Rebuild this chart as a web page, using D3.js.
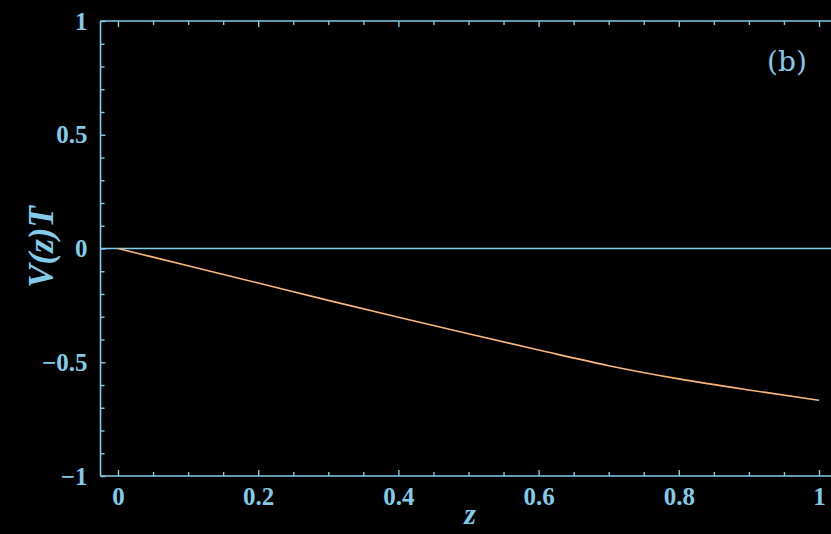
<!DOCTYPE html>
<html>
<head>
<meta charset="utf-8">
<script src="https://cdn.jsdelivr.net/npm/d3@7"></script>
<style>
  html, body { margin: 0; padding: 0; background: #000; overflow: hidden; }
</style>
</head>
<body>
<div class="chart"></div>
<script>
// values
var zValues = [0, 0.1, 0.2, 0.3, 0.4, 0.5, 0.6, 0.7, 0.8, 0.9, 1.0];
var vValues = [0, -0.076, -0.152, -0.228, -0.302, -0.375, -0.446, -0.515, -0.573, -0.622, -0.667];
var xMajor = [0, 0.2, 0.4, 0.6, 0.8, 1];
var xLabels = ["0", "0.2", "0.4", "0.6", "0.8", "1"];
var yMajor = [-1, -0.5, 0, 0.5, 1];
var yLabels = ["\u22121", "\u22120.5", "0", "0.5", "1"];

var blue = "#82cbe9", orange = "#f7b77c";
var W = 831, H = 534;

var x = d3.scaleLinear().domain([0, 1]).range([118, 819]);
var y = d3.scaleLinear().domain([-1, 1]).range([476, 21]);
var left = 100.5, right = W;

var xMinor = d3.range(-0.0, 1.0001, 0.05).filter(function(d){ return Math.abs(d*5 - Math.round(d*5)) > 1e-6; });
var yMinor = d3.range(-1, 1.0001, 0.1).filter(function(d){ return Math.abs(d*2 - Math.round(d*2)) > 1e-6; });

var svg = d3.select(".chart").append("svg")
  .attr("width", W).attr("height", H)
  .style("display", "block").style("background", "#000");

// frame lines
svg.append("line").attr("x1", left).attr("x2", right).attr("y1", y(-1)).attr("y2", y(-1))
  .attr("stroke", blue).attr("stroke-width", 1.6);
svg.append("line").attr("x1", left).attr("x2", right).attr("y1", y(1)).attr("y2", y(1))
  .attr("stroke", blue).attr("stroke-width", 1.6);
svg.append("line").attr("x1", left).attr("x2", left).attr("y1", y(1)).attr("y2", y(-1))
  .attr("stroke", blue).attr("stroke-width", 1.6);
// zero line
svg.append("line").attr("x1", left).attr("x2", right).attr("y1", y(0)).attr("y2", y(0))
  .attr("stroke", blue).attr("stroke-width", 1.4);

function styleAxis(g) {
  g.attr("font-family", "Liberation Serif, DejaVu Serif, serif").attr("font-size", 25).attr("font-weight", "bold");
  g.select(".domain").remove();
  g.selectAll(".tick line").attr("stroke", blue).attr("stroke-width", 1.4);
  g.selectAll(".tick text").attr("fill", blue);
}

// bottom axis
svg.append("g").attr("transform", "translate(0," + y(-1) + ")")
  .call(d3.axisBottom(x).tickValues(xMajor).tickSize(-6).tickPadding(11)
    .tickFormat(function(d, i){ return xLabels[i]; }))
  .call(styleAxis);
svg.append("g").attr("transform", "translate(0," + y(-1) + ")")
  .call(d3.axisBottom(x).tickValues(xMinor).tickSize(-4).tickFormat(""))
  .call(styleAxis);
// top axis ticks
svg.append("g").attr("transform", "translate(0," + y(1) + ")")
  .call(d3.axisTop(x).tickValues(xMajor).tickSize(-6).tickFormat(""))
  .call(styleAxis);
svg.append("g").attr("transform", "translate(0," + y(1) + ")")
  .call(d3.axisTop(x).tickValues(xMinor).tickSize(-4).tickFormat(""))
  .call(styleAxis);
// left axis
svg.append("g").attr("transform", "translate(" + left + ",0)")
  .call(d3.axisLeft(y).tickValues(yMajor).tickSize(-5).tickPadding(13)
    .tickFormat(function(d, i){ return yLabels[i]; }))
  .call(styleAxis);
svg.append("g").attr("transform", "translate(" + left + ",0)")
  .call(d3.axisLeft(y).tickValues(yMinor).tickSize(-4).tickFormat(""))
  .call(styleAxis);

// curve
var line = d3.line().x(function(d, i){ return x(zValues[i]); }).y(function(d){ return y(d); })
  .curve(d3.curveMonotoneX);
svg.append("path").datum(vValues).attr("d", line)
  .attr("fill", "none").attr("stroke", orange).attr("stroke-width", 1.6);

// axis labels
svg.append("text").attr("x", 470).attr("y", 524).attr("text-anchor", "middle")
  .attr("fill", blue).style("font-family", "Liberation Serif, DejaVu Serif, serif")
  .style("font-style", "italic").style("font-weight", "bold").style("font-size", "30px").text("z");
svg.append("text").attr("transform", "translate(53,247) rotate(-90)").attr("text-anchor", "middle")
  .attr("fill", blue).style("font-family", "Liberation Serif, DejaVu Serif, serif")
  .style("font-style", "italic").style("font-weight", "bold").style("font-size", "35px").text("V(z)T");
svg.append("text").attr("x", 787).attr("y", 71).attr("text-anchor", "middle")
  .attr("fill", blue).style("font-family", "DejaVu Serif, serif")
  .style("font-size", "28px").text("(b)");
</script>
</body>
</html>
